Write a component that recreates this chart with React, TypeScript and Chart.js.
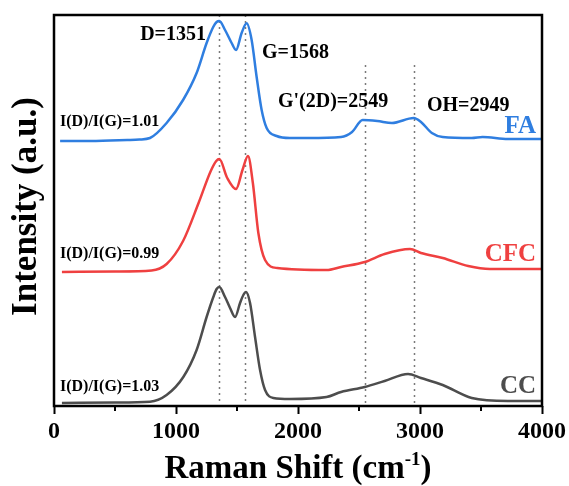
import React, { useEffect, useRef } from 'react';
import { Chart, registerables } from 'chart.js';

Chart.register(...registerables);

const FONT = '"Liberation Serif", "Times New Roman", serif';

// ---- data (x: Raman shift cm-1, y: offset intensity, a.u.) ----
const faShift = [50, 300, 600, 700, 787, 923, 1058, 1169, 1251, 1305, 1333, 1355, 1402, 1456, 1492, 1538, 1579, 1620, 1661, 1702, 1743, 1825, 1934, 2084, 2353, 2443, 2530, 2650, 2770, 2948, 3008, 3097, 3186, 3424, 3513, 3721, 4000];
const faIntensity = [265, 265, 266, 266.5, 268, 283, 306, 333, 363, 379, 384, 385, 376, 363, 356, 373, 382.7, 366, 329, 296, 278, 270, 268, 268, 269, 274, 286, 285, 283, 288, 284, 273, 269, 268, 269, 267, 267];

const cfcShift = [65, 500, 800, 923, 1058, 1185, 1285, 1330, 1355, 1420, 1492, 1545, 1590, 1630, 1675, 1730, 1830, 2234, 2353, 2547, 2710, 2918, 3008, 3186, 3395, 3573, 4000];
const cfcIntensity = [134, 134.5, 135.5, 142, 165, 203, 235, 245, 247, 228, 217, 236, 250, 223, 173, 146, 138, 136, 139, 144, 152, 157, 153, 148, 140, 137, 137];

const ccShift = [65, 500, 787, 923, 1060, 1169, 1251, 1306, 1333, 1355, 1402, 1443, 1484, 1525, 1552, 1574, 1607, 1648, 1689, 1730, 1798, 1934, 2234, 2353, 2547, 2710, 2902, 3008, 3186, 3424, 3721, 4000];
const ccIntensity = [3, 3.5, 4.3, 11, 29, 56, 89, 109, 117, 119, 109, 98, 89, 103, 111, 114, 103, 69, 36, 16, 8, 7, 9, 14, 19, 25, 32, 28, 21, 8, 5, 5];

const xTickValues = [0, 1000, 2000, 3000, 4000];
const xMinorTicks = [500, 1500, 2500, 3500];

const peakShifts = [1351, 1568, 2549, 2949];
const peakLabels = ['D=1351', 'G=1568', "G'(2D)=2549", 'OH=2949'];
const sampleNames = ['FA', 'CFC', 'CC'];
const ratioLabels = ['I(D)/I(G)=1.01', 'I(D)/I(G)=0.99', 'I(D)/I(G)=1.03'];

const seriesColors = ['#2f7ee0', '#ef4040', '#4d4d4d'];

// ---- text placement (data coordinates) ----
const guideTops = [391, 391, 341, 341];
const peakLabelPos = [
  { x: 1246, y: 371, align: 'right' },
  { x: 1705, y: 353, align: 'left' },
  { x: 1836, y: 304, align: 'left' },
  { x: 3057, y: 300, align: 'left' },
];
const ratioPos = [284, 152, 19];
const namePos = [279, 151, 19];

const decorPlugin = {
  id: 'decor',
  beforeDatasetsDraw(chart: any) {
    const { ctx, chartArea, scales } = chart;
    const x = scales.x;
    const y = scales.y;
    ctx.save();
    ctx.strokeStyle = '#7a7a7a';
    ctx.lineWidth = 1.5;
    ctx.setLineDash([2, 4]);
    peakShifts.forEach((s, i) => {
      const px = Math.round(x.getPixelForValue(s)) + 0.5;
      const top = y.getPixelForValue(guideTops[i]);
      ctx.beginPath();
      ctx.moveTo(px, Math.max(top, chartArea.top));
      ctx.lineTo(px, chartArea.bottom);
      ctx.stroke();
    });
    ctx.restore();
  },
  afterDraw(chart: any) {
    const { ctx, chartArea, scales } = chart;
    const x = scales.x;
    const y = scales.y;
    ctx.save();
    // frame
    ctx.strokeStyle = '#000';
    ctx.lineWidth = 2.5;
    ctx.strokeRect(chartArea.left, chartArea.top, chartArea.right - chartArea.left, chartArea.bottom - chartArea.top);
    // minor ticks
    ctx.lineWidth = 2;
    xMinorTicks.forEach((v) => {
      const px = x.getPixelForValue(v);
      ctx.beginPath();
      ctx.moveTo(px, chartArea.bottom);
      ctx.lineTo(px, chartArea.bottom + 5);
      ctx.stroke();
    });
    // peak labels
    ctx.fillStyle = '#000';
    ctx.textBaseline = 'middle';
    ctx.font = `bold 20px ${FONT}`;
    peakLabels.forEach((t, i) => {
      const p = peakLabelPos[i];
      ctx.textAlign = p.align as CanvasTextAlign;
      ctx.fillText(t, x.getPixelForValue(p.x), y.getPixelForValue(p.y));
    });
    // ratio labels
    ctx.font = `bold 16px ${FONT}`;
    ctx.textAlign = 'left';
    ratioLabels.forEach((t, i) => {
      ctx.fillText(t, x.getPixelForValue(49), y.getPixelForValue(ratioPos[i]));
    });
    // sample names
    ctx.font = `bold 25px ${FONT}`;
    ctx.textAlign = 'right';
    sampleNames.forEach((t, i) => {
      ctx.fillStyle = seriesColors[i];
      ctx.fillText(t, x.getPixelForValue(3951), y.getPixelForValue(namePos[i]));
    });
    // x title with superscript
    ctx.fillStyle = '#000';
    ctx.textBaseline = 'alphabetic';
    ctx.textAlign = 'left';
    const big = `bold 33px ${FONT}`;
    const small = `bold 19px ${FONT}`;
    const p1 = 'Raman Shift (cm';
    const p2 = '-1';
    const p3 = ')';
    ctx.font = big;
    const w1 = ctx.measureText(p1).width;
    const w3 = ctx.measureText(p3).width;
    ctx.font = small;
    const w2 = ctx.measureText(p2).width;
    const total = w1 + w2 + w3;
    const cx = (chartArea.left + chartArea.right) / 2;
    let sx = cx - total / 2;
    const base = 478;
    ctx.font = big;
    ctx.fillText(p1, sx, base);
    sx += w1;
    ctx.font = small;
    ctx.fillText(p2, sx, base - 13);
    sx += w2;
    ctx.font = big;
    ctx.fillText(p3, sx, base);
    // y title
    ctx.save();
    ctx.translate(27, (chartArea.top + chartArea.bottom) / 2 - 4);
    ctx.rotate(-Math.PI / 2);
    ctx.textAlign = 'center';
    ctx.textBaseline = 'middle';
    ctx.font = `bold 35px ${FONT}`;
    ctx.fillText('Intensity (a.u.)', 0, 0);
    ctx.restore();
    ctx.restore();
  },
};

function toPoints(xs: number[], ys: number[]) {
  return xs.map((v, i) => ({ x: v, y: ys[i] }));
}

export default function App() {
  const ref = useRef<HTMLCanvasElement | null>(null);
  useEffect(() => {
    if (!ref.current) return;
    const mk = (label: string, xs: number[], ys: number[], color: string) => ({
      label,
      data: toPoints(xs, ys),
      borderColor: color,
      backgroundColor: color,
      borderWidth: 2.5,
      pointRadius: 0,
      cubicInterpolationMode: 'monotone' as const,
      fill: false,
    });
    const chart = new Chart(ref.current, {
      type: 'line',
      data: {
        datasets: [
          mk(sampleNames[0], faShift, faIntensity, seriesColors[0]),
          mk(sampleNames[1], cfcShift, cfcIntensity, seriesColors[1]),
          mk(sampleNames[2], ccShift, ccIntensity, seriesColors[2]),
        ],
      },
      options: {
        animation: false,
        responsive: false,
        devicePixelRatio: 1,
        layout: { padding: { top: 15, right: 27, left: 0, bottom: 0 } },
        plugins: { legend: { display: false }, tooltip: { enabled: false } },
        scales: {
          x: {
            type: 'linear',
            min: 0,
            max: 4000,
            afterBuildTicks: (s: any) => {
              s.ticks = xTickValues.map((v) => ({ value: v }));
            },
            ticks: {
              font: { family: FONT, size: 24, weight: 'bold' },
              color: '#000',
              padding: 3,
              maxRotation: 0,
              autoSkip: false,
              callback: (v: any) => String(v),
            },
            grid: {
              display: true,
              drawOnChartArea: false,
              drawTicks: true,
              tickLength: 8,
              tickColor: '#000',
              tickWidth: 2,
            },
            border: { display: false },
            afterFit: (s: any) => {
              s.height = 80;
            },
          },
          y: {
            type: 'linear',
            min: 0,
            max: 391,
            ticks: { display: false },
            grid: { display: false, drawTicks: false },
            border: { display: false },
            afterFit: (s: any) => {
              s.width = 54;
            },
          },
        },
      },
      plugins: [decorPlugin],
    } as any);
    return () => chart.destroy();
  }, []);
  return (
    <div style={{ position: 'fixed', left: 0, top: 0, width: 569, height: 486, background: '#fff' }}>
      <canvas ref={ref} width={569} height={486} style={{ display: 'block', width: 569, height: 486 }} />
    </div>
  );
}
